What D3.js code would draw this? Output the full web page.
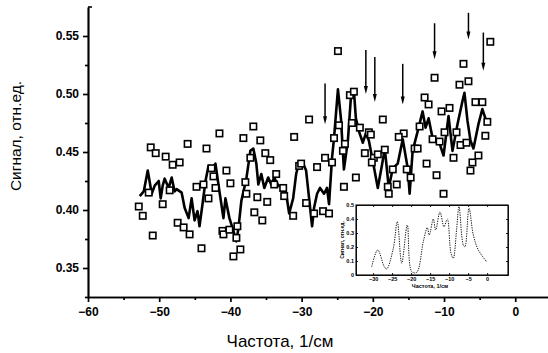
<!DOCTYPE html>
<html>
<head>
<meta charset="utf-8">
<script src="https://cdn.jsdelivr.net/npm/d3@7"></script>
<style>
  body { margin: 0; background: #fff; }
  svg { display: block; font-family: "Liberation Sans", Arial, sans-serif; }
  .axis path, .axis line { stroke: #000; stroke-width: 1.7; }
  .axis text { font-size: 12px; font-weight: bold; fill: #000; }
  .inset path, .inset line { stroke: #000; stroke-width: 0.9; }
  .inset text { font-size: 5.5px; font-weight: bold; fill: #000; }
</style>
</head>
<body>
<svg id="chart" width="548" height="353"></svg>
<script>
// measured points (squares): frequency, signal
const pointX = [-52.87, -52.31, -51.47, -50.91, -51.19, -50.49, -49.09, -48.11, -47.13, -49.51,
  -48.53, -47.41, -46.57, -45.73, -46.01, -44.06, -44.76, -43.78, -43.08, -43.36,
  -42.66, -42.38, -42.10, -41.54, -40.56, -40.00, -41.12, -40.98, -40.14, -39.02,
  -39.16, -38.60, -39.58, -38.18, -36.78, -35.80, -37.76, -36.22, -34.83, -36.64,
  -35.52, -35.10, -34.41, -37.20, -33.57, -33.85, -32.59, -32.45, -37.90,
  -31.05, -30.35, -30.07, -28.95, -27.83, -26.71, -25.73, -25.45, -24.76, -24.90,
  -23.92, -24.20, -23.22, -22.66, -22.94, -21.82, -20.56, -20.28, -21.12, -19.86,
  -19.30, -20.14, -22.38, -24.06, -29.37, -28.25, -26.99, -26.15, -31.19, -18.60,
  -18.32, -15.66, -16.36, -14.13, -13.71, -15.24, -17.20, -14.69, -16.64, -17.90,
  -17.76,
  -11.33, -12.73, -12.17, -10.35, -9.23, -13.43, -9.93, -8.25, -11.61, -10.63,
  -7.69, -6.85, -8.67, -12.45, -11.05, -7.27, -6.57, -7.83, -3.50, -5.59,
  -4.62, -3.92, -4.20, -5.17, -6.01, -6.29, -10.07];
const pointY = [0.403, 0.395, 0.415, 0.378, 0.454, 0.449, 0.446, 0.439, 0.441, 0.405,
  0.417, 0.389, 0.385, 0.379, 0.457, 0.367, 0.420, 0.422, 0.410, 0.453,
  0.436, 0.429, 0.419, 0.466, 0.434, 0.423, 0.382, 0.379, 0.383, 0.386,
  0.376, 0.366, 0.360, 0.462, 0.472, 0.460, 0.414, 0.411, 0.407, 0.398,
  0.391, 0.449, 0.443, 0.445, 0.431, 0.422, 0.419, 0.412, 0.424,
  0.463, 0.438, 0.440, 0.478, 0.437, 0.445, 0.441, 0.462, 0.473, 0.537,
  0.457, 0.451, 0.499, 0.502, 0.475, 0.471, 0.467, 0.465, 0.449, 0.445,
  0.448, 0.441, 0.428, 0.420, 0.406, 0.397, 0.399, 0.397, 0.395, 0.478,
  0.452, 0.466, 0.463, 0.453, 0.453, 0.435, 0.435, 0.428, 0.422, 0.420,
  0.414,
  0.514, 0.497, 0.491, 0.485, 0.488, 0.472, 0.467, 0.467, 0.461, 0.459,
  0.456, 0.458, 0.445, 0.440, 0.430, 0.526, 0.511, 0.508, 0.545, 0.493,
  0.493, 0.476, 0.464, 0.447, 0.441, 0.434, 0.414];

// smoothed curve (solid line)
const lineX = [-52.73, -52.17, -51.61, -51.05, -50.63, -50.07, -49.79, -49.51, -49.23, -48.67,
  -48.25, -47.83, -47.55, -46.85, -46.43, -45.87, -45.45, -45.03, -44.62, -44.34,
  -43.92, -43.50, -43.08, -42.52, -42.10, -41.54, -40.98, -40.70, -40.14, -39.58,
  -39.16, -38.88, -38.46, -37.76, -37.20, -36.78, -36.36, -36.08, -35.66, -35.24,
  -34.69, -34.27, -33.85, -33.29, -32.59, -32.17, -31.75, -31.19, -30.77, -30.35,
  -29.79, -29.37, -28.95, -28.53, -28.25, -27.83, -27.41, -26.85, -26.43, -26.15,
  -25.73, -25.45, -24.90, -24.48, -24.06, -23.50, -23.08, -22.66, -22.38, -21.96,
  -21.40, -20.98, -20.56, -20.00, -19.30, -18.74, -18.32, -17.76, -17.20, -16.50,
  -15.80, -15.10, -14.83, -14.41, -13.57, -13.01, -12.59, -12.17, -11.61, -10.77,
  -10.07, -9.37, -8.81, -8.11, -7.41, -7.13, -6.71, -6.29, -5.87, -5.17,
  -4.62, -3.92];
const lineY = [0.412, 0.416, 0.434, 0.414, 0.421, 0.425, 0.410, 0.421, 0.427, 0.419,
  0.428, 0.416, 0.418, 0.415, 0.402, 0.393, 0.410, 0.391, 0.399, 0.386,
  0.405, 0.425, 0.438, 0.436, 0.440, 0.416, 0.393, 0.410, 0.393, 0.382,
  0.373, 0.384, 0.408, 0.427, 0.451, 0.453, 0.440, 0.422, 0.431, 0.419,
  0.428, 0.422, 0.428, 0.421, 0.419, 0.414, 0.397, 0.410, 0.431, 0.441,
  0.440, 0.434, 0.410, 0.386, 0.402, 0.414, 0.419, 0.414, 0.419, 0.405,
  0.445, 0.462, 0.504, 0.479, 0.435, 0.460, 0.497, 0.503, 0.479, 0.468,
  0.458, 0.466, 0.460, 0.442, 0.419, 0.438, 0.453, 0.419, 0.436, 0.440,
  0.461, 0.436, 0.414, 0.451, 0.471, 0.485, 0.471, 0.479, 0.462, 0.460,
  0.447, 0.481, 0.451, 0.474, 0.494, 0.501, 0.477, 0.460, 0.453, 0.474,
  0.487, 0.474];

// arrows: position, top and tip values
const arrowX = [-26.71, -20.98, -19.72, -15.80, -11.33, -6.57, -4.48];
const arrowTop = [0.509, 0.538, 0.532, 0.526, 0.561, 0.570, 0.553];
const arrowTip = [0.474, 0.500, 0.493, 0.491, 0.530, 0.547, 0.520];

// inset spectrum
const insetX = [-30.37, -28.79, -27.05, -26.42, -24.68, -23.63, -22.47, -21.0, -19.84, -18.53,
  -16.79, -15.74, -15.21, -14.16, -13.53, -12.4, -11.34, -10.47, -9.5, -8.9,
  -8.0, -7.4, -6.26, -5.82, -4.76, -3.63, -2.32, -0.11];
const insetY = [0.059, 0.179, 0.059, 0.043, 0.191, 0.381, 0.084, 0.357, 0.024, 0.019,
  0.238, 0.338, 0.286, 0.400, 0.321, 0.45, 0.345, 0.400, 0.155, 0.12,
  0.333, 0.488, 0.214, 0.202, 0.477, 0.286, 0.179, 0.095];

const xTicks = [-60, -50, -40, -30, -20, -10, 0];
const xMinor = [-55, -45, -35, -25, -15, -5];
const yTicks = [0.35, 0.40, 0.45, 0.50, 0.55];
const yMinor = [0.325, 0.375, 0.425, 0.475, 0.525];
const insetXTicks = [-30, -25, -20, -15, -10, -5, 0];
const insetYTicks = [0, 0.1, 0.2, 0.3, 0.4, 0.5];

const svg = d3.select("#chart");

const x = d3.scaleLinear().domain([-60, 4.6]).range([88, 548]);
const y = d3.scaleLinear().domain([0.325, 0.575]).range([297, 7]);

// minor ticks
svg.append("g").attr("class", "axis")
    .attr("transform", "translate(0,297)")
    .call(d3.axisBottom(x).tickValues(xMinor).tickSize(3).tickSizeOuter(0).tickFormat(""));
svg.append("g").attr("class", "axis")
    .attr("transform", "translate(88,0)")
    .call(d3.axisLeft(y).tickValues(yMinor).tickSize(3).tickSizeOuter(0).tickFormat(""));

svg.append("g").attr("class", "axis")
    .attr("transform", "translate(0,297)")
    .call(d3.axisBottom(x).tickValues(xTicks).tickSize(5).tickSizeOuter(0).tickPadding(5));

svg.append("g").attr("class", "axis")
    .attr("transform", "translate(88,0)")
    .call(d3.axisLeft(y).tickValues(yTicks).tickSize(5).tickSizeOuter(0).tickPadding(4)
      .tickFormat(d3.format(".2f")));

// little cap at top of y axis
svg.append("line")
    .attr("x1", 88).attr("x2", 92)
    .attr("y1", y(0.575)).attr("y2", y(0.575))
    .attr("stroke", "#000").attr("stroke-width", 1.6);

// axis titles
svg.append("text")
    .attr("transform", "translate(21,136) rotate(-90)")
    .attr("text-anchor", "middle")
    .style("font-size", "15.5px")
    .text("Сигнал, отн.ед.");

svg.append("text")
    .attr("x", 280).attr("y", 347)
    .attr("text-anchor", "middle")
    .style("font-size", "17px")
    .text("Частота, 1/см");

// solid line
const lineData = lineX.map((d, i) => [d, lineY[i]]);
svg.append("path")
    .datum(lineData)
    .attr("fill", "none")
    .attr("stroke", "#000")
    .attr("stroke-width", 2.6)
    .attr("stroke-linejoin", "round")
    .attr("d", d3.line().x(d => x(d[0])).y(d => y(d[1])));

// squares
const pts = pointX.map((d, i) => [d, pointY[i]]);
svg.append("g").selectAll("rect")
    .data(pts)
  .enter().append("rect")
    .attr("x", d => x(d[0]) - 3.2)
    .attr("y", d => y(d[1]) - 3.2)
    .attr("width", 6.4)
    .attr("height", 6.4)
    .attr("fill", "#fff")
    .attr("stroke", "#000")
    .attr("stroke-width", 1.6);

// arrows
const arrows = arrowX.map((d, i) => ({ x: d, top: arrowTop[i], tip: arrowTip[i] }));
const ag = svg.append("g").selectAll("g")
    .data(arrows)
  .enter().append("g");
ag.append("line")
    .attr("x1", d => x(d.x)).attr("x2", d => x(d.x))
    .attr("y1", d => y(d.top)).attr("y2", d => y(d.tip) - 6)
    .attr("stroke", "#000").attr("stroke-width", 1.5);
ag.append("path")
    .attr("d", d => {
      const px = x(d.x), py = y(d.tip);
      return "M" + (px - 2) + "," + (py - 8) + "L" + (px + 2) + "," + (py - 8) + "L" + px + "," + py + "Z";
    })
    .attr("fill", "#000");

// inset
const ix = d3.scaleLinear().domain([-34.5, 5.5]).range([356, 508]);
const iy = d3.scaleLinear().domain([0, 0.5]).range([275, 205]);
const inset = svg.append("g").attr("class", "inset");

inset.append("rect")
    .attr("x", 356).attr("y", 205)
    .attr("width", 152).attr("height", 70)
    .attr("fill", "#fff").attr("stroke", "#000").attr("stroke-width", 1.1);

inset.append("g")
    .attr("transform", "translate(0,275)")
    .call(d3.axisBottom(ix).tickValues(insetXTicks).tickSize(-2).tickSizeOuter(0).tickPadding(2));
inset.append("g")
    .attr("transform", "translate(0,205)")
    .call(d3.axisTop(ix).tickValues(insetXTicks).tickSize(-2).tickSizeOuter(0).tickFormat(""));
inset.append("g")
    .attr("transform", "translate(356,0)")
    .call(d3.axisLeft(iy).tickValues(insetYTicks).tickSize(-2).tickSizeOuter(0).tickPadding(2)
      .tickFormat(d => d === 0 ? "0" : d3.format(".1f")(d)));
inset.append("g")
    .attr("transform", "translate(508,0)")
    .call(d3.axisRight(iy).tickValues(insetYTicks).tickSize(-2).tickSizeOuter(0).tickFormat(""));

inset.append("text")
    .attr("transform", "translate(344,240) rotate(-90)")
    .attr("text-anchor", "middle")
    .style("font-size", "5px").style("font-weight", "bold")
    .text("Сигнал, отн.ед.");
inset.append("text")
    .attr("x", 430).attr("y", 288)
    .attr("text-anchor", "middle")
    .style("font-size", "5.5px").style("font-weight", "bold")
    .text("Частота, 1/см");

const insetData = insetX.map((d, i) => [d, insetY[i]]);
inset.append("path")
    .datum(insetData)
    .attr("fill", "none")
    .attr("stroke", "#000")
    .attr("stroke-width", 1.4)
    .attr("stroke-dasharray", "1.3,1.1")
    .attr("d", d3.line().curve(d3.curveCatmullRom).x(d => ix(d[0])).y(d => iy(d[1])));
</script>
</body>
</html>
